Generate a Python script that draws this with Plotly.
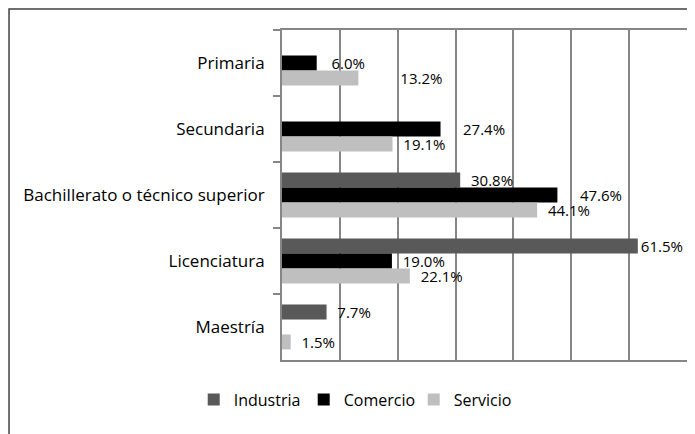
import plotly.graph_objects as go

niveles = ['Primaria', 'Secundaria', 'Bachillerato o técnico superior', 'Licenciatura', 'Maestría']
industria = [None, None, 30.8, 61.5, 7.7]
comercio = [6.0, 27.4, 47.6, 19.0, None]
servicio = [13.2, 19.1, 44.1, 22.1, 1.5]

series = [
    ('Industria', industria, '#595959'),
    ('Comercio', comercio, '#000000'),
    ('Servicio', servicio, '#bfbfbf'),
]

FONT = 'Open Sans'
GRID = '#868686'
NB = '\u00a0'

# separación (en espacios) entre el final de la barra y su etiqueta
separacion = {
    ('Comercio', 'Primaria'): 3,
    ('Servicio', 'Primaria'): 10,
    ('Comercio', 'Secundaria'): 5,
    ('Comercio', 'Bachillerato o técnico superior'): 5,
    ('Industria', 'Licenciatura'): 0,
}


def etiqueta(serie, nivel, v):
    if not v:
        return ''
    return NB * separacion.get((serie, nivel), 2) + f'{v:.1f}%'


fig = go.Figure()
for name, vals, color in series:
    fig.add_trace(go.Bar(
        y=niveles, x=vals, name=name, orientation='h',
        marker=dict(color=color, line=dict(width=0)),
        text=[etiqueta(name, n, v) for n, v in zip(niveles, vals)],
        textposition='outside', cliponaxis=False, constraintext='none',
        textfont=dict(family=FONT, size=15, color='#000000'),
    ))

# la página añade 8 px de margen alrededor de la figura
fig.update_layout(
    width=695, height=434,
    margin=dict(l=274, r=16, t=22, b=82, autoexpand=False),
    paper_bgcolor='white', plot_bgcolor='white',
    barmode='group', bargap=0.32, bargroupgap=0,
    font=dict(family=FONT, size=17, color='#000000'),
    legend=dict(orientation='h', x=-0.218, xanchor='left', y=-0.12, yanchor='middle',
                font=dict(family=FONT, size=16), traceorder='normal', itemwidth=30,
                entrywidth=65, entrywidthmode='pixels', tracegroupgap=0),
    showlegend=True,
)
fig.update_xaxes(range=[0, 70], dtick=10, showticklabels=False, showgrid=True,
                 gridcolor=GRID, gridwidth=2, zeroline=False, automargin=False,
                 showline=True, linecolor=GRID, linewidth=2, mirror=True)
fig.update_yaxes(autorange='reversed', showgrid=False, tickson='boundaries',
                 ticks='outside', ticklen=7, tickcolor=GRID, tickwidth=2,
                 showline=True, linecolor=GRID, linewidth=2, mirror=True,
                 automargin=False, ticklabelstandoff=12)

# marco exterior del gráfico
fig.add_shape(type='rect', xref='paper', yref='paper',
              x0=-0.674, x1=1.05, y0=-0.3, y1=1.0636,
              line=dict(color='#404040', width=1.5), layer='below')

fig.write_html('out.html')
